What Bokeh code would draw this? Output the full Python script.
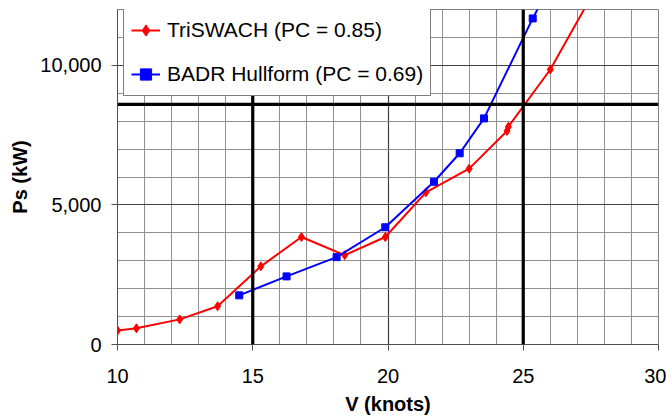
from bokeh.plotting import figure
from bokeh.models import Span, Legend, LegendItem, NumeralTickFormatter, FixedTicker
from bokeh.embed import file_html
from bokeh.resources import INLINE

# Data
tri_v = [10.0, 10.7, 12.3, 13.7, 15.3, 16.8, 18.4, 19.9, 21.4, 23.0, 24.4, 24.45, 26.0, 28.0]
tri_p = [500, 580, 900, 1370, 2800, 3850, 3200, 3850, 5450, 6300, 7650, 7800, 9850, 13300]
badr_v = [14.5, 16.25, 18.1, 19.9, 21.7, 22.65, 23.55, 25.35, 26.5]
badr_p = [1760, 2440, 3130, 4200, 5830, 6850, 8100, 11680, 13800]
x_ticks = [10, 15, 20, 25, 30]
y_ticks = [0, 5000, 10000]
ref_v = [15, 25]
ref_p = [8600]

FONT = "Liberation Sans"

p = figure(width=666, height=417, x_range=(10, 30), y_range=(0, 12000),
           output_backend="svg", toolbar_location=None,
           min_border_left=117, min_border_right=8, min_border_top=9, min_border_bottom=0)
p.background_fill_color = "white"
p.outline_line_color = "#808080"
p.outline_line_width = 1

# grids
p.xgrid.ticker = FixedTicker(ticks=x_ticks, minor_ticks=list(range(10, 31)))
p.ygrid.ticker = FixedTicker(ticks=y_ticks, minor_ticks=list(range(0, 12001, 1000)))
for g in (p.xgrid, p.ygrid):
    g.grid_line_color = "#404040"
    g.grid_line_width = 1.2
    g.minor_grid_line_color = "#909090"
    g.minor_grid_line_width = 1

# axes
p.xaxis.ticker = FixedTicker(ticks=x_ticks)
p.yaxis.ticker = FixedTicker(ticks=y_ticks)
p.yaxis.formatter = NumeralTickFormatter(format="0,0")
for ax in (p.xaxis, p.yaxis):
    ax.axis_line_color = "#505050"
    ax.major_tick_line_color = "#505050"
    ax.major_tick_out = 6
    ax.major_tick_in = 0
    ax.minor_tick_out = 0
    ax.minor_tick_in = 0
    ax.major_label_text_font = FONT
    ax.major_label_text_font_size = "20px"
    ax.major_label_text_color = "black"
    ax.axis_label_text_font = FONT
    ax.axis_label_text_font_size = "20px"
    ax.axis_label_text_font_style = "bold"
    ax.axis_label_text_color = "black"
p.xaxis.axis_label = "V (knots)"
p.yaxis.axis_label = "Ps (kW)"
p.xaxis.major_label_standoff = 18
p.xaxis.axis_label_standoff = 7
p.yaxis.major_label_standoff = 10
p.yaxis.axis_label_standoff = 6

# reference lines
for v in ref_v:
    p.add_layout(Span(location=v, dimension="height", line_color="black", line_width=3.2))
for v in ref_p:
    p.add_layout(Span(location=v, dimension="width", line_color="black", line_width=3.2))

# series
r1 = p.line(tri_v, tri_p, line_color="#ff0000", line_width=2)
m1 = p.scatter(tri_v, tri_p, marker="diamond", size=9, fill_color="#ff0000", line_color="#ff0000")
r2 = p.line(badr_v, badr_p, line_color="#0000ff", line_width=2)
m2 = p.scatter(badr_v, badr_p, marker="square", size=7, fill_color="#0000ff", line_color="#0000ff")

legend = Legend(items=[LegendItem(label="TriSWACH (PC = 0.85)", renderers=[r1, m1]),
                       LegendItem(label="BADR Hullform (PC = 0.69)", renderers=[r2, m2])],
                location=(6, 248))
legend.label_text_font = FONT
legend.label_text_font_size = "21px"
legend.label_text_color = "black"
legend.border_line_color = "black"
legend.border_line_width = 1
legend.background_fill_alpha = 1
legend.padding = 7
legend.spacing = 16
legend.margin = 0
legend.glyph_width = 29
legend.glyph_height = 28
legend.label_height = 28
legend.label_standoff = 7
p.add_layout(legend, "center")

open("out.html", "w").write(file_html(p, INLINE))
